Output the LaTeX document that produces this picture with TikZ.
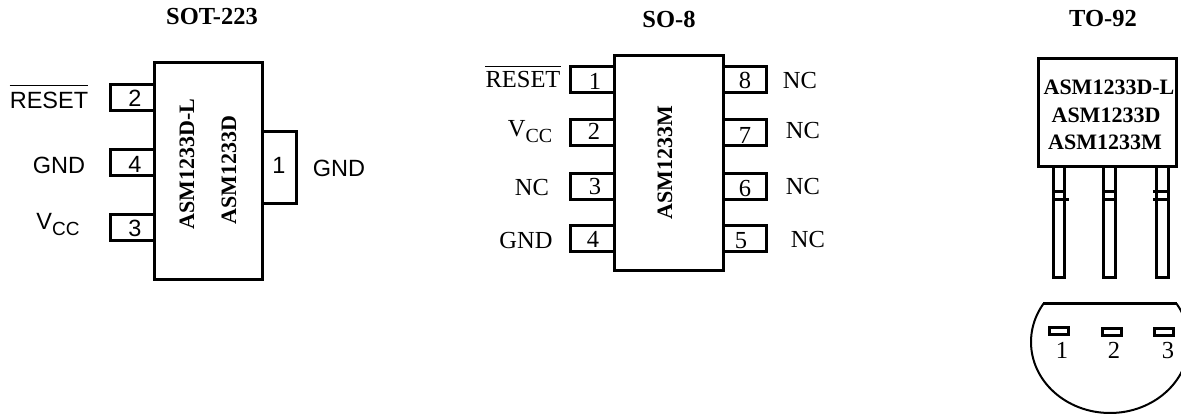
\documentclass[tikz,border=0pt]{standalone}
\usepackage{fontspec}
\setmainfont{Liberation Serif}
\setsansfont{Liberation Sans}
\newcommand{\vccsans}{V\raisebox{-6pt}{\fontsize{19}{19}\selectfont CC}}
\newcommand{\vccserif}{V\raisebox{-6pt}{\fontsize{20}{20}\selectfont CC}}
\tikzset{
	chipbox/.style={draw,line width=3pt,inner sep=0pt,outer sep=0pt},
	pinbox/.style={draw,line width=3pt,inner sep=0pt,outer sep=0pt,minimum width=#1,minimum height=26pt},
	legbox/.style={line width=3pt},
	titletext/.style={inner sep=0pt,font=\bfseries\fontsize{24.5}{24.5}\selectfont},
	parttext/.style={inner sep=0pt,font=\bfseries\fontsize{22}{22}\selectfont},
	sanstext/.style={inner sep=0pt,font=\sffamily\fontsize{23.5}{23.5}\selectfont},
	seriftext/.style={inner sep=0pt,font=\fontsize{24.5}{24.5}\selectfont}
}
\begin{document}
\begin{tikzpicture}[x=1pt,y=-1pt]
	\useasboundingbox (0,0) rectangle (1181,414);

	% SOT-223
	\node [titletext] (sottitle) at (212,17) {SOT-223};
	\node [pinbox=44pt] (sotpinb) at (132,98) {};
	\node [pinbox=44pt] (sotpind) at (132,163) {};
	\node [pinbox=44pt] (sotpinc) at (132,228) {};
	\node [pinbox=34pt,minimum height=72pt] (sotpina) at (279,168) {};
	\node [chipbox,fill=white,minimum width=108pt,minimum height=216pt] (sot) at (208,171) {};
	\node [sanstext] (sotnumb) at (135,98) {2};
	\node [sanstext] (sotnumd) at (135,164) {4};
	\node [sanstext] (sotnumc) at (135,228) {3};
	\node [sanstext] (sotnuma) at (279,165) {1};
	\node [sanstext] (sotreset) at (49,100) {RESET};
	\draw [line width=1.2pt] ([yshift=6pt]sotreset.north west) -- ([yshift=6pt]sotreset.north east);
	\node [sanstext] (sotgnd) at (59,165) {GND};
	\node [sanstext] (sotvcc) at (58,225) {\vccsans};
	\node [sanstext] (sotgndr) at (339,168) {GND};
	\node [parttext,rotate=90] (sotparta) at (187,164) {ASM1233D-L};
	\node [parttext,rotate=90] (sotpartb) at (229,170) {ASM1233D};

	% SO-8
	\node [titletext] (sotitle) at (669,19) {SO-8};
	\foreach \i/\y in {1/80,2/133,3/187,4/239}{
		\node [pinbox=44pt] (sopinl\i) at (592,\y) {};
	}
	\foreach \i/\y in {8/80,7/133,6/187,5/239}{
		\node [pinbox=43pt] (sopinr\i) at (745,\y) {};
	}
	\node [chipbox,fill=white,minimum width=109pt,minimum height=215pt] (so) at (668.5,163.5) {};
	\node [seriftext] (sonuma) at (595,81) {1};
	\node [seriftext] (sonumb) at (594,131) {2};
	\node [seriftext] (sonumc) at (595,187) {3};
	\node [seriftext] (sonumd) at (593,239) {4};
	\node [seriftext] (sonumh) at (745,80) {8};
	\node [seriftext] (sonumg) at (745,135) {7};
	\node [seriftext] (sonumf) at (745,189) {6};
	\node [seriftext] (sonume) at (741,241) {5};
	\node [seriftext] (soreset) at (523,80) {RESET};
	\draw [line width=1.2pt] ([yshift=5pt]soreset.north west) -- ([yshift=5pt]soreset.north east);
	\node [seriftext] (sovcc) at (530,132) {\vccserif};
	\node [seriftext] (sonc) at (532,188) {NC};
	\node [seriftext] (sognd) at (526,241) {GND};
	\node [seriftext] (soncr) at (800,81) {NC};
	\node [seriftext] (soncq) at (803,131) {NC};
	\node [seriftext] (soncp) at (803,187) {NC};
	\node [seriftext] (soncn) at (808,240) {NC};
	\node [parttext,rotate=90] (sopart) at (665,163) {ASM1233M};

	% TO-92
	\node [titletext] (totitle) at (1103,19) {TO-92};
	\node [chipbox,minimum width=138pt,minimum height=108pt] (to) at (1107.5,113) {};
	\node [parttext] (topartl) at (1109,87) {ASM1233D-L};
	\node [parttext] (topartd) at (1106,115) {ASM1233D};
	\node [parttext] (topartm) at (1105,142) {ASM1233M};
	\draw [legbox] (1053,167) -- (1053,277) -- (1064,277) -- (1064,167);
	\draw [legbox] (1103,167) -- (1103,277) -- (1115,277) -- (1115,167);
	\draw [legbox] (1156,167) -- (1156,277) -- (1168,277) -- (1168,167);
	\draw [legbox] (1053,192) -- (1064,192);
	\draw [legbox] (1055,200) -- (1069,200);
	\draw [legbox] (1103,192) -- (1117,192);
	\draw [legbox] (1103,200) -- (1117,200);
	\draw [legbox] (1153,192) -- (1168,192);
	\draw [legbox] (1153,200) -- (1168,200);
	\draw [legbox] (1043,303) -- (1177,303);
	\begin{scope}
		\clip (1020,303) rectangle (1200,420);
		\draw [line width=2pt] (1110,342) ellipse [x radius=79,y radius=71];
	\end{scope}
	\node [pinbox=19pt,minimum height=7pt] (tolega) at (1059,331) {};
	\node [pinbox=19pt,minimum height=7pt] (tolegb) at (1111.5,331.5) {};
	\node [pinbox=19pt,minimum height=7pt] (tolegc) at (1163.5,331.5) {};
	\node [seriftext] (tonuma) at (1062,350) {1};
	\node [seriftext] (tonumb) at (1114,350) {2};
	\node [seriftext] (tonumc) at (1168,351) {3};
\end{tikzpicture}
\end{document}
